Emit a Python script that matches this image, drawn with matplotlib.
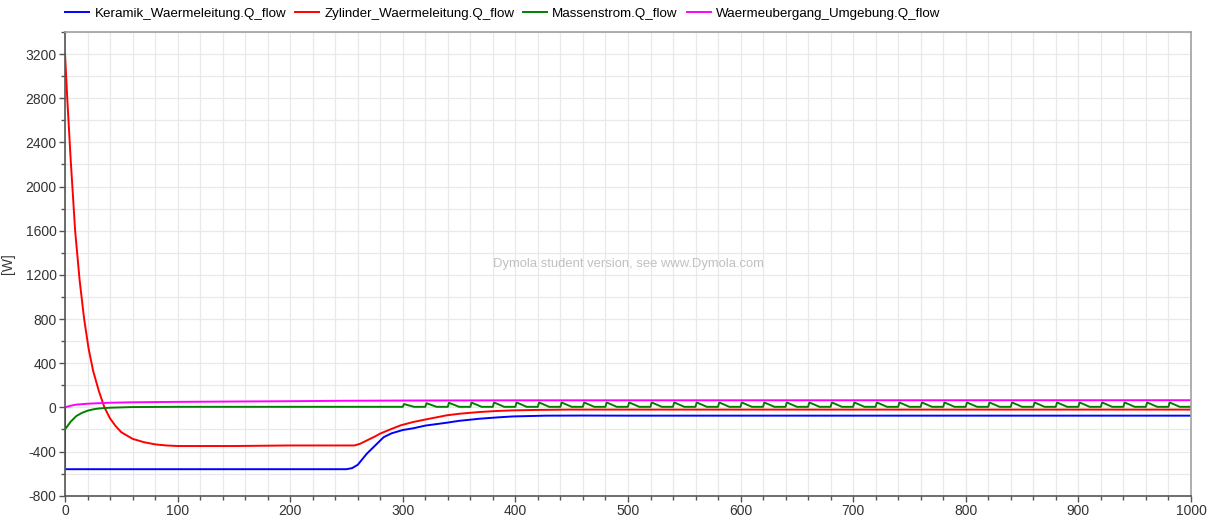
import matplotlib
matplotlib.use("Agg")
import matplotlib.pyplot as plt
from matplotlib.ticker import MultipleLocator

plt.rcParams['font.family'] = ['Liberation Sans', 'DejaVu Sans']
plt.rcParams['axes.unicode_minus'] = False

# --- simulation results (time in s, heat flow in W) ---
t_keramik = [0, 0, 20, 100, 200, 250, 255, 260, 268, 275, 283, 290, 300, 309,
             320, 339, 350, 368, 385, 398, 427, 460, 500, 600, 800, 1000]
q_keramik = [0, -560, -560, -560, -560, -560, -550, -520, -420, -350, -270, -235,
             -205, -190, -165, -139, -122, -103, -90, -82, -75, -74, -75, -75, -75, -75]

t_zylinder = [0, 2, 5, 9, 13, 17, 21, 25, 30, 35, 40, 45, 50, 60, 70, 80, 90,
              100, 150, 200, 257, 262, 268, 275, 280, 290, 298, 309, 320, 339,
              350, 368, 385, 398, 420, 448, 500, 700, 1000]
q_zylinder = [3200, 2800, 2250, 1600, 1150, 800, 530, 330, 150, 0, -100, -170,
              -225, -285, -315, -335, -345, -350, -350, -345, -345, -330, -300,
              -265, -237, -195, -163, -133, -110, -72, -58, -42, -32, -27, -23,
              -20, -20, -20, -20]

t_massen_start = [0, 5, 10, 15, 20, 25, 30, 40, 50, 60, 100, 200, 300]
q_massen_start = [-200, -130, -79, -50, -30, -18, -10, -3, 0, 3, 5, 5, 5]

# periodic pulses of the mass flow term after t = 300 s
pulse_times = [300, 320, 340, 360, 380, 400, 420, 440, 460, 480, 500, 520, 540,
               560, 580, 600, 620, 640, 660, 680, 700, 720, 740, 760, 780, 800,
               820, 840, 860, 880, 900, 920, 940, 960, 980]
pulse_peaks = [30, 38, 42, 44, 45, 45, 45, 45, 45, 45, 45, 45, 45, 45, 45, 45,
               45, 45, 45, 45, 45, 45, 45, 45, 45, 45, 45, 45, 45, 45, 45, 45,
               45, 45, 45]
pulse_decay = 10      # seconds until the pulse has fallen back
massen_base = 5

t_umgebung = [0, 5, 10, 20, 30, 40, 60, 100, 150, 200, 250, 300, 400, 1000]
q_umgebung = [0, 15, 25, 33, 38, 42, 46, 50, 53, 56, 60, 62, 64, 65]

# build the mass-flow polyline from the start transient and the pulses
t_massen = list(t_massen_start)
q_massen = list(q_massen_start)
for tp, peak in zip(pulse_times, pulse_peaks):
    t_massen += [tp, tp + 1, tp + pulse_decay, tp + 20]
    q_massen += [massen_base, peak, massen_base, massen_base]

fig = plt.figure(figsize=(12.15, 5.2), dpi=100)
ax = fig.add_axes([65 / 1215, 1 - 495.7 / 520, (1191 - 65) / 1215, (495.7 - 32) / 520])

lw = 1.4
ax.plot(t_keramik, q_keramik, color='#0000ff', lw=lw, label='Keramik_Waermeleitung.Q_flow')
ax.plot(t_zylinder, q_zylinder, color='#ff0000', lw=lw, label='Zylinder_Waermeleitung.Q_flow')
ax.plot(t_massen, q_massen, color='#008000', lw=lw, label='Massenstrom.Q_flow')
ax.plot(t_umgebung, q_umgebung, color='#ff00ff', lw=lw, label='Waermeubergang_Umgebung.Q_flow')

ax.set_xlim(0, 1000)
ax.set_ylim(-800, 3400)
ax.xaxis.set_major_locator(MultipleLocator(100))
ax.xaxis.set_minor_locator(MultipleLocator(20))
ax.yaxis.set_major_locator(MultipleLocator(400))
ax.yaxis.set_minor_locator(MultipleLocator(200))

ax.grid(which='both', color='#e9e9e9', lw=0.9)
ax.set_axisbelow(True)

for side in ('left', 'bottom'):
    ax.spines[side].set_color('#555555')
    ax.spines[side].set_linewidth(1.2)
for side in ('right', 'top'):
    ax.spines[side].set_color('#a0a0a0')
    ax.spines[side].set_linewidth(1.2)

ax.tick_params(which='major', direction='out', length=4, width=1, color='#555555',
               labelsize=10, labelcolor='#333333', pad=2)
ax.tick_params(which='minor', direction='out', length=3, width=1, color='#555555')

ax.set_ylabel('[W]', fontsize=10, color='#333333')
ax.yaxis.set_label_coords(-0.0445, 0.5)

ax.text(0.5, 0.5, 'Dymola student version, see www.Dymola.com', transform=ax.transAxes,
        ha='center', va='center', fontsize=9.4, color='#c0c0c0')

fig.legend(loc='upper left', bbox_to_anchor=(58 / 1215, 1.0), ncol=4, frameon=False,
           fontsize=9.6, handlelength=1.8, handletextpad=0.38, columnspacing=0.68,
           borderaxespad=0.15)

fig.savefig('out.png', dpi=100)
